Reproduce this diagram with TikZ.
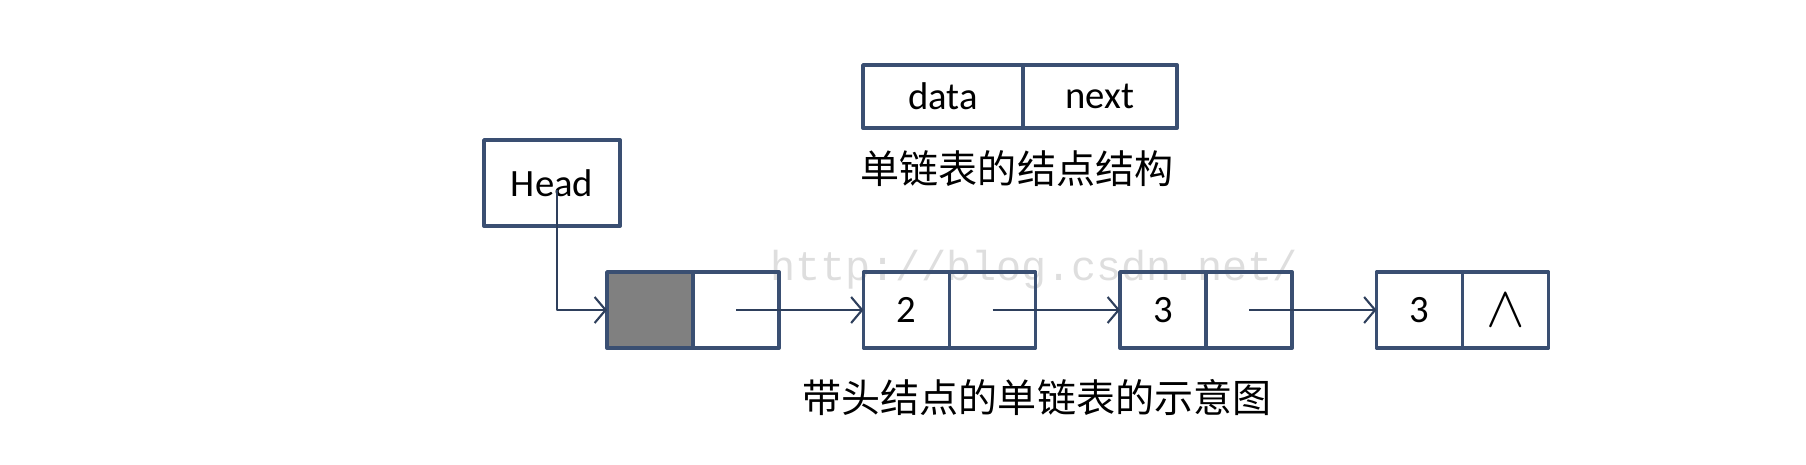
\documentclass[tikz,border=0pt]{standalone}
\usepackage{fontspec}
\setmainfont{Carlito}
\newfontfamily\cjk{Noto Sans CJK SC}
\newfontfamily\wmfont{Liberation Mono}
\usetikzlibrary{positioning,arrows.meta}
\definecolor{boxc}{HTML}{3A4F72}
\definecolor{linec}{HTML}{2E3F5C}
\begin{document}
\begin{tikzpicture}[line join=round,>={Straight Barb[length=1.1mm,width=2.6mm]},
	cell/.style={draw=boxc,line width=1.1pt,outer sep=0pt,inner sep=0pt,minimum width=0.86cm,minimum height=0.76cm,font=\fontsize{11}{13}\selectfont},
	link/.style={->,draw=linec,line width=0.6pt}]
	\useasboundingbox (0,0) rectangle (18.06,4.64);
	\def\yl{1.54} \def\dx{2.565}
	% watermark
	\node[text=black!13,font=\wmfont\fontsize{11.9}{13}\selectfont] (wm) at (10.34,1.94) {http://blog.csdn.net/};
	% node structure
	\node[cell,minimum width=1.6cm,minimum height=0.63cm] (data) at (9.43,3.675) {data};
	\node[cell,minimum width=1.54cm,minimum height=0.63cm,right=0pt of data] (next) {next};
	\node[font=\cjk\fontsize{11.1}{13}\selectfont] (cap1) at (10.17,2.95) {单链表的结点结构};
	% head pointer
	\node[cell,minimum width=1.36cm,minimum height=0.86cm] (head) at (5.52,2.81) {Head};
	\coordinate (hs) at ([xshift=0.05cm,yshift=-0.07cm]head.center);
	% list
	\node[cell,fill=black!50] (d1) at (6.07+0.43,\yl) {};
	\foreach \i/\v in {2/2,3/3,4/3}
	\node[cell] (d\i) at (6.07+0.43+\i*\dx-\dx,\yl) {\v};
	\foreach \i in {1,2,3}
	\node[cell,right=0pt of d\i] (n\i) {};
	\node[cell,right=0pt of d4] (n4) {\scalebox{1.5}{$\wedge$}};
	\draw[link] (hs) |- (d1.west);
	\foreach \i/\j in {1/2,2/3,3/4}
	\draw[link] (n\i.center)--(d\j.west);
	\node[font=\cjk\fontsize{11.1}{13}\selectfont] (cap2) at (10.37,0.67) {带头结点的单链表的示意图};
\end{tikzpicture}
\end{document}
